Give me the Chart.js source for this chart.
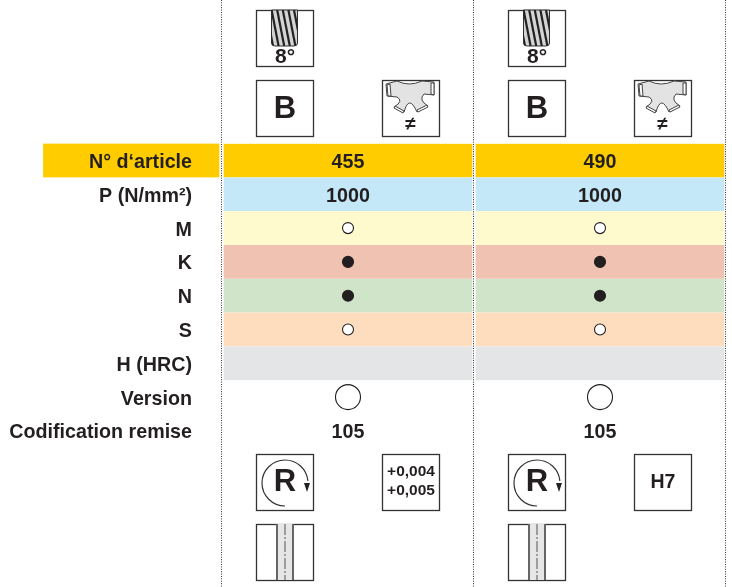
<!DOCTYPE html>
<html>
<head>
<meta charset="utf-8">
<style>
  html, body { margin: 0; padding: 0; background: #fff; }
  canvas { display: block; }
</style>
<script src="https://cdn.jsdelivr.net/npm/chart.js@4"></script>
</head>
<body>
<canvas id="chart" width="732" height="587"></canvas>
<script>
const rowLabels = ['N° d‘article', 'P (N/mm²)', 'M', 'K', 'N', 'S', 'H (HRC)', 'Version', 'Codification remise']
const rowColors = ['#ffcc00', '#c5e8f9', '#fffacd', '#efc2b2', '#d0e4c9', '#fdddbd', '#e4e5e7', null, null]
const columnRanges = [[0, 1], [1, 2]]
const columnCentres = [0.5, 1.5]
const headerRange = [-0.71, 0]
const cellTexts = {
  'N° d‘article': ['455', '490'],
  'P (N/mm²)': ['1000', '1000'],
  'Codification remise': ['105', '105']
}
const smallOpenRows = ['M', 'S']
const smallFilledRows = ['K', 'N']
const largeOpenRows = ['Version']
const toleranceBoxes = [['+0,004', '+0,005'], ['H7']]

const ink = '#231f20'
const font = (size) => 'bold ' + size + 'px "Liberation Sans", Arial, sans-serif'

function marks(rows) {
  return rows.flatMap(row => columnCentres.map(x => ({ x: x, y: row })))
}

function columnDataset(range) {
  return {
    type: 'bar',
    data: rowLabels.map((label, i) => rowColors[i] ? range : null),
    backgroundColor: rowColors,
    borderColor: '#fff',
    borderWidth: { left: 2, right: 2, top: 0, bottom: 0 },
    borderSkipped: false,
    barPercentage: 1,
    categoryPercentage: 1,
    grouped: false,
    order: 2
  }
}

function markDataset(rows, radius, fill) {
  return {
    type: 'line',
    data: marks(rows),
    showLine: false,
    pointStyle: 'circle',
    pointRadius: radius,
    pointBackgroundColor: fill,
    pointBorderColor: ink,
    pointBorderWidth: 1.1,
    order: 1
  }
}

function box(ctx, x, y, w, h) {
  ctx.strokeStyle = '#333'
  ctx.lineWidth = 1.3
  ctx.strokeRect(x + 0.5, y + 0.5, w, h)
}

function label(ctx, text, x, y, size) {
  ctx.fillStyle = ink
  ctx.font = font(size)
  ctx.textAlign = 'center'
  ctx.textBaseline = 'middle'
  ctx.fillText(text, x, y)
}

function drillIcon(ctx, x, y) {
  box(ctx, x, y, 57, 56)
  ctx.beginPath()
  ctx.moveTo(x + 15.5, y)
  ctx.lineTo(x + 15.5, y + 33)
  ctx.quadraticCurveTo(x + 15.5, y + 36, x + 19, y + 36)
  ctx.lineTo(x + 38, y + 36)
  ctx.quadraticCurveTo(x + 41.5, y + 36, x + 41.5, y + 33)
  ctx.lineTo(x + 41.5, y)
  ctx.closePath()
  ctx.fillStyle = '#d4d4d4'
  ctx.fill()
  ctx.strokeStyle = '#333'
  ctx.lineWidth = 1
  ctx.stroke()
  ctx.save()
  ctx.clip()
  ctx.strokeStyle = '#222'
  ctx.lineWidth = 2.2
  for (let i = 0; i < 6; i++) {
    ctx.beginPath()
    ctx.moveTo(x + 10 + i * 5.6, y)
    ctx.lineTo(x + 17 + i * 5.6, y + 36)
    ctx.stroke()
  }
  ctx.restore()
  label(ctx, '8°', x + 29, y + 47, 21)
}

function letterIcon(ctx, x, y) {
  box(ctx, x, y, 57, 56)
  label(ctx, 'B', x + 29, y + 29, 31)
}

function cutterIcon(ctx, x, y) {
  box(ctx, x, y, 57, 56)
  ctx.beginPath()
  ctx.moveTo(x + 4, y + 4)
  ctx.lineTo(x + 15, y + 1)
  ctx.quadraticCurveTo(x + 27, y + 7, x + 40, y + 1)
  ctx.lineTo(x + 52, y + 2)
  ctx.lineTo(x + 52, y + 15)
  ctx.lineTo(x + 42, y + 14)
  ctx.quadraticCurveTo(x + 36, y + 20, x + 46, y + 26)
  ctx.lineTo(x + 35, y + 32)
  ctx.quadraticCurveTo(x + 27, y + 14, x + 22, y + 32)
  ctx.lineTo(x + 12, y + 27)
  ctx.quadraticCurveTo(x + 22, y + 21, x + 15, y + 17)
  ctx.lineTo(x + 5, y + 16)
  ctx.closePath()
  ctx.fillStyle = '#e3e3e3'
  ctx.fill()
  ctx.strokeStyle = '#444'
  ctx.lineWidth = 1
  ctx.stroke()
  const teeth = [[5, 5, 8, 4, 9, 16, 6, 16], [49, 3, 52, 3, 52, 15, 49, 14], [13, 26, 22, 31, 21, 33, 12, 28], [35, 30, 45, 25, 46, 27, 36, 32]]
  teeth.forEach(t => {
    ctx.beginPath()
    ctx.moveTo(x + t[0], y + t[1])
    ctx.lineTo(x + t[2], y + t[3])
    ctx.lineTo(x + t[4], y + t[5])
    ctx.lineTo(x + t[6], y + t[7])
    ctx.closePath()
    ctx.fillStyle = '#fff'
    ctx.fill()
    ctx.stroke()
  })
  label(ctx, '≠', x + 28.5, y + 45, 19)
}

function rotationIcon(ctx, x, y) {
  box(ctx, x, y, 57, 56)
  const cx = x + 29
  const cy = y + 29
  ctx.strokeStyle = '#333'
  ctx.lineWidth = 1.2
  ctx.beginPath()
  ctx.arc(cx, cy, 23, Math.PI * 0.5, Math.PI * 1.97)
  ctx.stroke()
  ctx.beginPath()
  ctx.moveTo(cx + 19, cy)
  ctx.lineTo(cx + 25, cy)
  ctx.lineTo(cx + 22, cy + 9)
  ctx.closePath()
  ctx.fillStyle = '#222'
  ctx.fill()
  label(ctx, 'R', x + 29, y + 28, 31)
}

function grooveIcon(ctx, x, y) {
  box(ctx, x, y, 57, 56)
  ctx.fillStyle = '#e6e6e6'
  ctx.fillRect(x + 21, y - 1, 16, 57)
  ctx.strokeStyle = '#666'
  ctx.lineWidth = 2
  ctx.beginPath()
  ctx.moveTo(x + 21, y)
  ctx.lineTo(x + 21, y + 56)
  ctx.moveTo(x + 37, y)
  ctx.lineTo(x + 37, y + 56)
  ctx.stroke()
  ctx.strokeStyle = '#555'
  ctx.lineWidth = 1
  ctx.setLineDash([11, 2, 2, 2])
  ctx.beginPath()
  ctx.moveTo(x + 29, y)
  ctx.lineTo(x + 29, y + 56)
  ctx.stroke()
  ctx.setLineDash([])
}

function toleranceIcon(ctx, x, y, lines) {
  box(ctx, x, y, 57, 56)
  if (lines.length === 2) {
    label(ctx, lines[0], x + 29, y + 18, 15.5)
    label(ctx, lines[1], x + 29, y + 37, 15.5)
  } else {
    label(ctx, lines[0], x + 29, y + 29, 19.5)
  }
}

const tablePlugin = {
  id: 'tablePlugin',
  afterDatasetsDraw(chart) {
    const ctx = chart.ctx
    const xs = chart.scales.x
    const ys = chart.scales.y
    ctx.save()

    // dotted column rules, full page height
    ctx.strokeStyle = '#333'
    ctx.lineWidth = 1
    ctx.setLineDash([1, 1.4])
    ;[0, 1, 2].forEach(v => {
      const px = Math.round(xs.getPixelForValue(v)) - 0.5
      ctx.beginPath()
      ctx.moveTo(px, 0)
      ctx.lineTo(px, chart.height)
      ctx.stroke()
    })
    ctx.setLineDash([])

    Object.keys(cellTexts).forEach(row => {
      cellTexts[row].forEach((text, c) => {
        label(ctx, text, xs.getPixelForValue(columnCentres[c]), ys.getPixelForValue(row) + 2, 19.7)
      })
    })

    columnRanges.forEach((range, c) => {
      const left = xs.getPixelForValue(range[0])
      drillIcon(ctx, left + 34, 10)
      letterIcon(ctx, left + 34, 80)
      cutterIcon(ctx, left + 160, 80)
      rotationIcon(ctx, left + 34, 454)
      toleranceIcon(ctx, left + 160, 454, toleranceBoxes[c])
      grooveIcon(ctx, left + 34, 524)
    })
    ctx.restore()
  }
}

new Chart(document.getElementById('chart'), {
  data: {
    labels: rowLabels,
    datasets: [
      markDataset(smallOpenRows, 5.5, '#fff'),
      markDataset(smallFilledRows, 5.5, ink),
      markDataset(largeOpenRows, 12.5, '#fff'),
      columnDataset(columnRanges[0]),
      columnDataset(columnRanges[1]),
      {
        type: 'bar',
        data: rowLabels.map((label, i) => i === 0 ? headerRange : null),
        backgroundColor: rowColors[0],
        borderColor: '#fff',
        borderWidth: { left: 0, right: 3, top: 0, bottom: 0 },
        borderSkipped: false,
        barPercentage: 1,
        categoryPercentage: 1,
        grouped: false,
        clip: false,
        order: 2
      }
    ]
  },
  plugins: [tablePlugin],
  options: {
    indexAxis: 'y',
    responsive: false,
    animation: false,
    layout: { autoPadding: false, padding: { top: 143.6, bottom: 139.2, left: 0, right: 6 } },
    plugins: {
      legend: { display: false },
      tooltip: { enabled: false }
    },
    scales: {
      x: {
        type: 'linear',
        min: 0,
        max: 2,
        display: false
      },
      y: {
        type: 'category',
        afterFit(scale) {
          scale.width = 222
          // row labels sit 2px below the band centre in the reference
          const pixelForValue = scale.getPixelForValue.bind(scale)
          scale.getPixelForTick = (i) => pixelForValue(i) + 2
        },
        grid: { display: false, drawTicks: false },
        border: { display: false },
        ticks: {
          autoSkip: false,
          padding: 30,
          z: 1,
          color: ink,
          font: { family: '"Liberation Sans", Arial, sans-serif', size: 19.7, weight: 'bold' }
        }
      }
    }
  }
})
</script>
</body>
</html>
